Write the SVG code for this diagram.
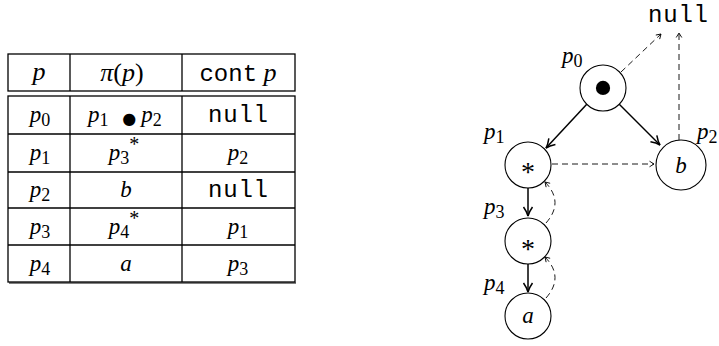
<svg xmlns="http://www.w3.org/2000/svg" width="719" height="346" viewBox="0 0 719 346">
<style>
.m{font-family:'Liberation Serif','Times New Roman',serif;font-style:italic;font-size:23px;fill:#000}
.h{font-size:26px}
.up{font-style:normal}
.tt{font-family:'Liberation Mono','Courier New',monospace;font-size:24px;fill:#000;font-style:normal}
.tl{stroke:#000;stroke-width:1.3;fill:none}
.node{fill:#fff;stroke:#000;stroke-width:1.1}
.solid{stroke:#000;stroke-width:1.5;fill:none;marker-end:url(#ah)}
.dash{stroke:#000;stroke-width:0.9;fill:none;stroke-dasharray:6 4;marker-end:url(#dh)}
</style>
<defs>
<marker id="ah" viewBox="-11 -6 12 12" refX="0" refY="0" markerWidth="12" markerHeight="12" orient="auto" markerUnits="userSpaceOnUse">
<path d="M-9,-4.5 Q-4,-1 0,0 Q-4,1 -9,4.5" fill="none" stroke="#000" stroke-width="1.5"/>
</marker>
<marker id="dh" viewBox="-6 -4 7 8" refX="0" refY="0" markerWidth="7" markerHeight="8" orient="auto" markerUnits="userSpaceOnUse">
<path d="M-4.5,-2.8 L0,0 L-4.5,2.8" fill="none" stroke="#000" stroke-width="0.9"/>
</marker>
</defs>
<rect width="719" height="346" fill="#fff"/>

<g id="table">
<rect class="tl" x="8" y="54" width="287" height="37"/>
<rect class="tl" x="8" y="96" width="287" height="186"/>
<line class="tl" x1="70" y1="54" x2="70" y2="91"/>
<line class="tl" x1="182" y1="54" x2="182" y2="91"/>
<line class="tl" x1="70" y1="96" x2="70" y2="282"/>
<line class="tl" x1="182" y1="96" x2="182" y2="282"/>
<line class="tl" x1="8" y1="134" x2="295" y2="134"/>
<line class="tl" x1="8" y1="172" x2="295" y2="172"/>
<line class="tl" x1="8" y1="208" x2="295" y2="208"/>
<line class="tl" x1="8" y1="245" x2="295" y2="245"/>
<line stroke="#000" stroke-width="1" x1="9" y1="283" x2="296" y2="283"/>

<text class="m h" x="39" y="80" text-anchor="middle">p</text>
<text class="m h" x="122" y="81" text-anchor="middle">π<tspan class="up">(</tspan>p<tspan class="up">)</tspan></text>
<text x="238" y="81" text-anchor="middle"><tspan class="tt">cont</tspan><tspan class="m h"> p</tspan></text>

<text class="m" x="40" y="122" text-anchor="middle">p<tspan class="up" font-size="18" dy="4">0</tspan></text>
<text class="m" x="88" y="122">p<tspan class="up" font-size="18" dy="4">1</tspan><tspan class="up" style="font-family:'DejaVu Sans',sans-serif;font-size:16px" dx="13.7" dy="-2.2">●</tspan><tspan dx="5.2" dy="-1.8">p</tspan><tspan class="up" font-size="18" dy="4">2</tspan></text>
<text class="tt" x="238" y="122" text-anchor="middle" textLength="60">null</text>

<text class="m" x="40" y="160" text-anchor="middle">p<tspan class="up" font-size="18" dy="4">1</tspan></text>
<text class="m" x="124" y="160" text-anchor="middle">p<tspan class="up" font-size="18" dy="4">3</tspan><tspan class="up" font-size="20" dy="-13">*</tspan></text>
<text class="m" x="238" y="160" text-anchor="middle">p<tspan class="up" font-size="18" dy="4">2</tspan></text>

<text class="m" x="40" y="197" text-anchor="middle">p<tspan class="up" font-size="18" dy="4">2</tspan></text>
<text class="m" x="126" y="197" text-anchor="middle">b</text>
<text class="tt" x="238" y="197" text-anchor="middle" textLength="60">null</text>

<text class="m" x="40" y="234" text-anchor="middle">p<tspan class="up" font-size="18" dy="4">3</tspan></text>
<text class="m" x="124" y="234" text-anchor="middle">p<tspan class="up" font-size="18" dy="4">4</tspan><tspan class="up" font-size="20" dy="-13">*</tspan></text>
<text class="m" x="238" y="234" text-anchor="middle">p<tspan class="up" font-size="18" dy="4">1</tspan></text>

<text class="m" x="40" y="271" text-anchor="middle">p<tspan class="up" font-size="18" dy="4">4</tspan></text>
<text class="m" x="126" y="271" text-anchor="middle">a</text>
<text class="m" x="238" y="271" text-anchor="middle">p<tspan class="up" font-size="18" dy="4">3</tspan></text>
</g>

<g id="connectors">
<path class="solid" d="M587,104 L546,148"/>
<path class="solid" d="M619,104 L660,145"/>
<path class="solid" d="M528,187 L528,216"/>
<path class="solid" d="M528,264 L528,292"/>
<path class="dash" d="M621,72 L661,34"/>
<path class="dash" d="M679,140 L679,33"/>
<path class="dash" d="M552,164 L654,164"/>
<path class="dash" d="M546,223 Q564.5,202 545,182"/>
<path class="dash" d="M546,298 Q564.5,277 545,257"/>
</g>

<g id="null-label">
<text class="tt" x="678" y="22" text-anchor="middle" textLength="60">null</text>
</g>

<g id="p0">
<circle class="node" cx="603" cy="88" r="23"/>
<text class="m up" x="603" y="108" style="font-size:60px" text-anchor="middle">•</text>
<text class="m" x="562" y="63">p<tspan class="up" font-size="18" dy="4">0</tspan></text>
</g>

<g id="p1">
<circle class="node" cx="528" cy="165" r="23"/>
<text class="m up" x="528" y="181" style="font-size:28px" text-anchor="middle">*</text>
<text class="m" x="484" y="139">p<tspan class="up" font-size="18" dy="4">1</tspan></text>
</g>

<g id="p2">
<circle class="node" cx="681" cy="165" r="25"/>
<text class="m" x="681" y="173" text-anchor="middle">b</text>
<text class="m" x="697" y="139">p<tspan class="up" font-size="18" dy="4">2</tspan></text>
</g>

<g id="p3">
<circle class="node" cx="528" cy="241" r="23"/>
<text class="m up" x="528" y="258" style="font-size:28px" text-anchor="middle">*</text>
<text class="m" x="484" y="214">p<tspan class="up" font-size="18" dy="4">3</tspan></text>
</g>

<g id="p4">
<circle class="node" cx="528" cy="316" r="23"/>
<text class="m" x="528" y="323" text-anchor="middle">a</text>
<text class="m" x="484" y="290">p<tspan class="up" font-size="18" dy="4">4</tspan></text>
</g>
</svg>
